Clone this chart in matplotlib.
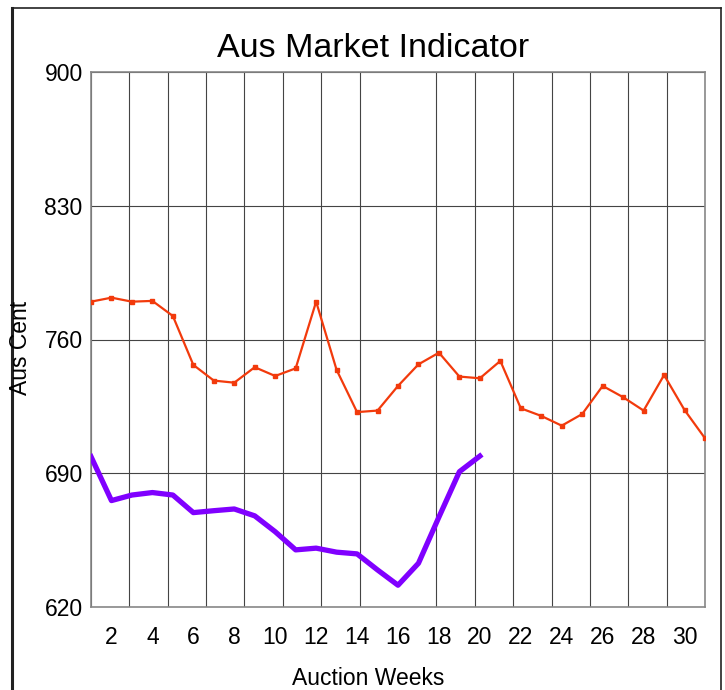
import matplotlib
matplotlib.use("Agg")
import matplotlib.pyplot as plt
import numpy as np

# data
weeks = np.arange(1, 32)
this_season = [779.8, 781.9, 779.8, 780.2, 772.3, 746.7, 738.5, 737.4, 745.5, 740.9,
               744.9, 779.8, 744.1, 722.0, 722.8, 735.7, 747.0, 753.1, 740.6, 739.7,
               748.8, 724.0, 720.0, 714.9, 721.0, 735.7, 729.8, 722.8, 741.4, 723.1,
               708.3]
weeks_new = np.arange(1, 21)
new_season = [698.7, 675.7, 678.6, 679.9, 678.6, 669.4, 670.4, 671.3, 667.7, 659.4,
              649.9, 650.8, 648.7, 647.8, 639.4, 631.4, 642.9, 667.1, 690.8, 699.0]

y_ticks = [620, 690, 760, 830, 900]
x_ticks = np.arange(2, 31, 2)

plt.rcParams["font.family"] = ["Liberation Sans", "DejaVu Sans"]

fig = plt.figure(figsize=(7.25, 6.9), dpi=100)
W, H = 725.0, 690.0
ax = fig.add_axes([91/W, 1-607/H, (705-91)/W, (607-72)/H])

# grid: horizontal on y ticks, vertical in 16 equal steps
ax.set_xlim(1, 31)
ax.set_ylim(620, 900)
ax.set_yticks(y_ticks)
ax.set_xticks(x_ticks)
ax.set_xticks(np.linspace(1, 31, 17), minor=True)
ax.grid(True, which="major", axis="y", color="#444444", lw=0.8)
ax.grid(True, which="minor", axis="x", color="#444444", lw=0.8)
ax.tick_params(axis="both", which="both", length=0, labelsize=16.5)
ax.tick_params(axis="x", pad=14)
ax.tick_params(axis="y", pad=6)
for s in ax.spines.values():
    s.set_color("#888888")
    s.set_linewidth(1.2)

ax.plot(weeks, this_season, color="#F23A0C", lw=1.6, marker="s", ms=3, zorder=3)
ax.plot(weeks_new, new_season, color="#8000FF", lw=3.8, zorder=3)

fig.text(373/W, 1-57/H, "Aus Market Indicator", ha="center", va="baseline", fontsize=24.5)
fig.text(21/W, 1-348/H, "Aus Cent", ha="center", va="center", rotation=90, fontsize=16.5)
fig.text(368/W, 1-685/H, "Auction Weeks", ha="center", va="baseline", fontsize=16.5)

# outer frame of the picture
fig.add_artist(plt.Line2D([12/W, 12/W], [0, 1-8/H], transform=fig.transFigure, color="#222222", lw=2.2))
fig.add_artist(plt.Line2D([12/W, 721/W], [1-8/H, 1-8/H], transform=fig.transFigure, color="#222222", lw=1.2))
fig.add_artist(plt.Line2D([721/W, 721/W], [0, 1-8/H], transform=fig.transFigure, color="#222222", lw=1.2))

fig.savefig("out.png", dpi=100)
